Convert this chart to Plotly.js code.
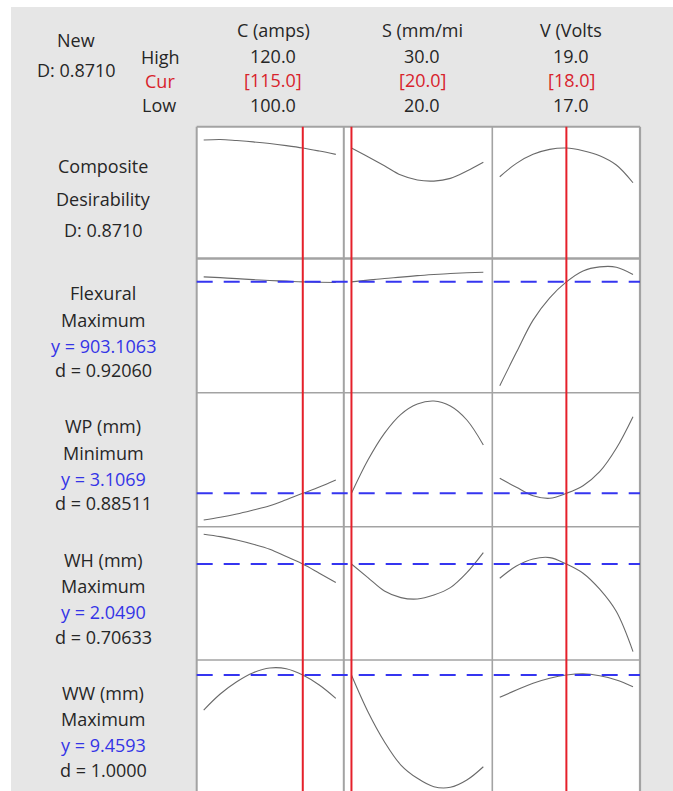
<!DOCTYPE html>
<html><head><meta charset="utf-8">
<script src="https://cdn.plot.ly/plotly-3.0.1.min.js"></script>
<style>html,body{margin:0;padding:0;background:#fff;}#chart{width:673px;height:791px;}</style>
</head><body><div id="chart"></div>
<script>
// ---- factors ----
const factorNames = ["C (amps)", "S (mm/mi", "V (Volts"];
const factorHigh = [120.0, 30.0, 19.0];
const factorCur = [115.0, 20.0, 18.0];
const factorLow = [100.0, 20.0, 17.0];

// ---- x grids per factor ----
const xC = [100, 102.5, 105, 107.5, 110, 112.5, 115, 117.5, 120];
const xS = [20, 21.25, 22.5, 23.75, 25, 26.25, 27.5, 28.75, 30];
const xV = [17, 17.25, 17.5, 17.75, 18, 18.25, 18.5, 18.75, 19];

// ---- composite desirability ----
const compC = [0.924, 0.928, 0.921, 0.912, 0.901, 0.887, 0.871, 0.851, 0.829];
const compS = [0.871, 0.813, 0.753, 0.691, 0.658, 0.651, 0.669, 0.718, 0.776];
const compV = [0.680, 0.769, 0.829, 0.862, 0.871, 0.853, 0.820, 0.758, 0.640];
// ---- Flexural ----
const flexC = [908.1, 907.3, 906.3, 905.3, 904.5, 903.8, 903.1, 902.7, 902.4];
const flexS = [903.1, 904.8, 906.5, 907.8, 909.3, 910.5, 911.5, 912.2, 912.8];
const flexV = [799.1, 832.5, 864.8, 887.1, 903.1, 914.1, 918.1, 917.8, 910.5];
// ---- WP (mm) ----
const wpC = [2.840, 2.867, 2.900, 2.940, 2.983, 3.043, 3.107, 3.170, 3.240];
const wpS = [3.107, 3.440, 3.707, 3.897, 4.000, 4.030, 3.980, 3.840, 3.590];
const wpV = [3.257, 3.167, 3.083, 3.057, 3.107, 3.183, 3.323, 3.557, 3.873];
// ---- WH (mm) ----
const whC = [2.198, 2.186, 2.169, 2.148, 2.123, 2.086, 2.049, 2.003, 1.956];
const whS = [2.049, 1.981, 1.914, 1.881, 1.874, 1.894, 1.931, 2.006, 2.106];
const whV = [1.978, 2.039, 2.074, 2.081, 2.049, 2.003, 1.923, 1.811, 1.611];
// ---- WW (mm) ----
const wwC = [9.109, 9.269, 9.392, 9.482, 9.529, 9.522, 9.459, 9.359, 9.226];
const wwS = [9.459, 9.092, 8.792, 8.559, 8.426, 8.342, 8.336, 8.409, 8.542];
const wwV = [9.236, 9.309, 9.376, 9.426, 9.459, 9.472, 9.452, 9.409, 9.342];

// ---- responses ----
const responseNames = ["Flexural", "WP (mm)", "WH (mm)", "WW (mm)"];
const responseGoals = ["Maximum", "Minimum", "Maximum", "Maximum"];
const responseY = [903.1063, 3.1069, 2.0490, 9.4593];
const responseYText = ["903.1063", "3.1069", "2.0490", "9.4593"];
const responseD = ["0.92060", "0.88511", "0.70633", "1.0000"];
const compositeD = "0.8710";

// ---------------- layout helpers ----------------
const W = 673, H = 791;
const px = v => v / W;
const py = v => 1 - v / H;
const colEdges = [196.7, 343.8, 492.3, 640];
const rowEdges = [126.7, 258.5, 392.7, 526.7, 660, 793.5];
const xRanges = [[98.94, 121.21], [19.42, 30.68], [16.888, 19.105]];
const yRanges = [[0.1357, 1.013], [792.1, 926.5], [2.773, 4.113], [1.569, 2.2355], [8.2993, 9.6093]];
// last row is cut by the window bottom
const visBottom = 791;
yRanges[4] = [9.4593 - (visBottom - 675) * 0.01, 9.4593 + (675 - 660) * 0.01];

const xData = [xC, xS, xV];
const yData = [
  [compC, compS, compV],
  [flexC, flexS, flexV],
  [wpC, wpS, wpV],
  [whC, whS, whV],
  [wwC, wwS, wwV]
];

const traces = [];
for (let r = 0; r < 5; r++) {
  for (let c = 0; c < 3; c++) {
    traces.push({
      type: 'scatter', mode: 'lines',
      x: xData[c], y: yData[r][c],
      xaxis: 'x' + (c ? c + 1 : ''), yaxis: 'y' + (r ? r + 1 : ''),
      line: {color: '#6a6a6a', width: 1.1, shape: 'spline', smoothing: 1},
      hoverinfo: 'skip', showlegend: false
    });
  }
}

const layout = {
  width: W, height: H, autosize: false,
  margin: {l: 0, r: 0, t: 0, b: 0, pad: 0},
  paper_bgcolor: '#ffffff', plot_bgcolor: 'rgba(0,0,0,0)',
  showlegend: false,
  font: {family: 'Open Sans, sans-serif', size: 18, color: '#262626'},
  shapes: [], annotations: []
};
const axBase = {showgrid: false, zeroline: false, showline: false, showticklabels: false, ticks: '', fixedrange: true};
for (let c = 0; c < 3; c++) {
  layout['xaxis' + (c ? c + 1 : '')] = Object.assign({}, axBase, {
    domain: [px(colEdges[c]), px(colEdges[c + 1])], range: xRanges[c], anchor: 'y5'
  });
}
for (let r = 0; r < 5; r++) {
  const bot = r === 4 ? visBottom : rowEdges[r + 1];
  layout['yaxis' + (r ? r + 1 : '')] = Object.assign({}, axBase, {
    domain: [py(bot), py(rowEdges[r])], range: yRanges[r], anchor: 'x'
  });
}

// backgrounds
layout.shapes.push({type: 'rect', xref: 'paper', yref: 'paper', x0: px(11), x1: 1, y0: 0, y1: py(7),
  fillcolor: '#e6e6e6', line: {width: 0}, layer: 'below'});
layout.shapes.push({type: 'rect', xref: 'paper', yref: 'paper', x0: px(colEdges[0]), x1: px(colEdges[3]), y0: 0, y1: py(rowEdges[0]),
  fillcolor: '#ffffff', line: {width: 0}, layer: 'below'});

// grid lines
const gridCol = '#a3a3a3';
const vW = [2, 2, 1.6, 2.2];
colEdges.forEach((x, i) => layout.shapes.push({type: 'line', xref: 'paper', yref: 'paper',
  x0: px(x), x1: px(x), y0: 0, y1: py(rowEdges[0]), line: {color: gridCol, width: vW[i]}}));
const hW = [2, 2.5, 1.6, 1.6, 1.6];
rowEdges.slice(0, 5).forEach((y, i) => layout.shapes.push({type: 'line', xref: 'paper', yref: 'paper',
  x0: px(colEdges[0]), x1: px(colEdges[3]), y0: py(y), y1: py(y), line: {color: gridCol, width: hW[i]}}));

// target (current response) dashed lines
for (let r = 1; r < 5; r++) {
  layout.shapes.push({type: 'line', xref: 'paper', yref: 'y' + (r + 1),
    x0: px(colEdges[0]), x1: px(colEdges[3]), y0: responseY[r - 1], y1: responseY[r - 1],
    line: {color: '#3535f0', width: 2, dash: '16px,11px'}});
}
// current factor setting red lines
for (let c = 0; c < 3; c++) {
  layout.shapes.push({type: 'line', xref: 'x' + (c ? c + 1 : ''), yref: 'paper',
    x0: factorCur[c], x1: factorCur[c], y0: 0, y1: py(rowEdges[0]),
    line: {color: '#e5202a', width: 2}});
}

// ---- text ----
const dark = '#262626', red = '#d8232c', blue = '#3434e6';
function txt(x, y, t, color) {
  layout.annotations.push({xref: 'paper', yref: 'paper', x: px(x), y: py(y), text: t,
    showarrow: false, xanchor: 'center', yanchor: 'middle',
    font: {family: 'Open Sans, sans-serif', size: 18, color: color || dark}});
}
txt(76, 40.5, 'New');
txt(76, 70, 'D: ' + compositeD);
txt(160, 57, 'High');
txt(160, 81, 'Cur', red);
txt(159, 105, 'Low');
const colCenters = [273, 422, 571];
for (let c = 0; c < 3; c++) {
  txt(colCenters[c], 30, factorNames[c]);
  txt(colCenters[c], 56, factorHigh[c].toFixed(1));
  txt(colCenters[c], 80, '[' + factorCur[c].toFixed(1) + ']', red);
  txt(colCenters[c], 105, factorLow[c].toFixed(1));
}
txt(103, 165.7, 'Composite');
txt(103, 199.3, 'Desirability');
txt(103, 230, 'D: ' + compositeD);
for (let r = 0; r < 4; r++) {
  const base = 293.3 + r * 133.1;
  txt(103, base, responseNames[r]);
  txt(103, base + 26.3, responseGoals[r]);
  txt(103, base + 52.3, 'y = ' + responseYText[r], blue);
  txt(103, base + 77, 'd = ' + responseD[r]);
}

Plotly.newPlot('chart', traces, layout, {staticPlot: true, displayModeBar: false});
</script></body></html>
